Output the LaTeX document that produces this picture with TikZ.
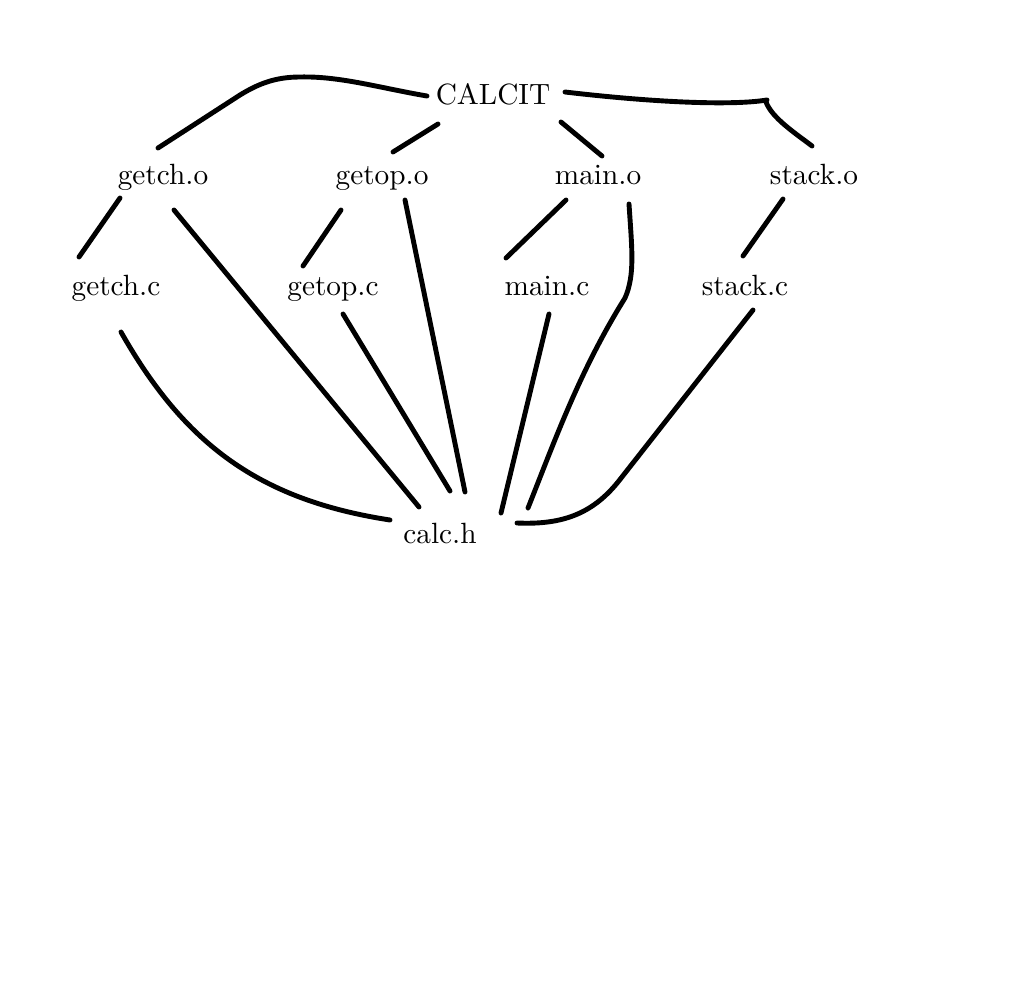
\documentclass[tikz,border=0pt]{standalone}
\begin{document}
\begin{tikzpicture}[x=1pt,y=-1pt,
  lbl/.style={anchor=base,inner sep=0pt,scale=2.93},
  edge/.style={line width=4.9pt,line cap=round,line join=round}]
\useasboundingbox (0,0) rectangle (1022,1001);
\node[lbl] (calcit) at (493,104) {CALCIT};
\node[lbl] (getcho) at (163,184) {getch.o};
\node[lbl] (getopo) at (382,184) {getop.o};
\node[lbl] (maino) at (598,184) {main.o};
\node[lbl] (stacko) at (814,184) {stack.o};
\node[lbl] (getchc) at (116,295) {getch.c};
\node[lbl] (getopc) at (333,295) {getop.c};
\node[lbl] (mainc) at (547,295) {main.c};
\node[lbl] (stackc) at (745,295) {stack.c};
\node[lbl] (calch) at (440,543) {calc.h};
\coordinate (hook) at (767,100);
% CALCIT edges
\draw[edge] ([shift={(-66,-8)}]calcit.base) .. controls (380,88) and (340,76) .. (300,77) .. controls (275,77) and (258,84) .. (240,95) -- ([shift={(-5,-36)}]getcho.base);
\draw[edge] ([shift={(-55,20)}]calcit.base) -- ([shift={(11,-32)}]getopo.base);
\draw[edge] ([shift={(68,18)}]calcit.base) -- ([shift={(4,-28)}]maino.base);
\draw[edge] ([shift={(72,-12)}]calcit.base) .. controls (650,102) and (730,106) .. (hook);
\draw[edge] ([shift={(-1,2)}]hook) .. controls (772,118) and (795,133) .. ([shift={(-2,-38)}]stacko.base);
% getch.o
\draw[edge] ([shift={(-43,14)}]getcho.base) -- ([shift={(-37,-38)}]getchc.base);
\draw[edge] ([shift={(11,26)}]getcho.base) -- ([shift={(-21,-36)}]calch.base);
% getop.o
\draw[edge] ([shift={(-41,26)}]getopo.base) -- ([shift={(-30,-29)}]getopc.base);
\draw[edge] ([shift={(23,16)}]getopo.base) -- ([shift={(25,-51)}]calch.base);
% getop.c
\draw[edge] ([shift={(10,19)}]getopc.base) -- ([shift={(10,-52)}]calch.base);
% main.o
\draw[edge] ([shift={(31,20)}]maino.base) .. controls (632,250) and (635,275) .. (625,298) .. controls (580,370) and (555,440) .. ([shift={(88,-35)}]calch.base);
\draw[edge] ([shift={(-32,16)}]maino.base) -- ([shift={(-41,-37)}]mainc.base);
% main.c
\draw[edge] ([shift={(2,19)}]mainc.base) -- ([shift={(61,-30)}]calch.base);
% stack.o
\draw[edge] ([shift={(-31,15)}]stacko.base) -- ([shift={(-2,-39)}]stackc.base);
% stack.c
\draw[edge] ([shift={(8,15)}]stackc.base) -- (618,482) .. controls (592,514) and (562,525) .. ([shift={(77,-20)}]calch.base);
% getch.c
\draw[edge] ([shift={(5,37)}]getchc.base) .. controls (185,445) and (260,500) .. ([shift={(-50,-23)}]calch.base);
\end{tikzpicture}
\end{document}
